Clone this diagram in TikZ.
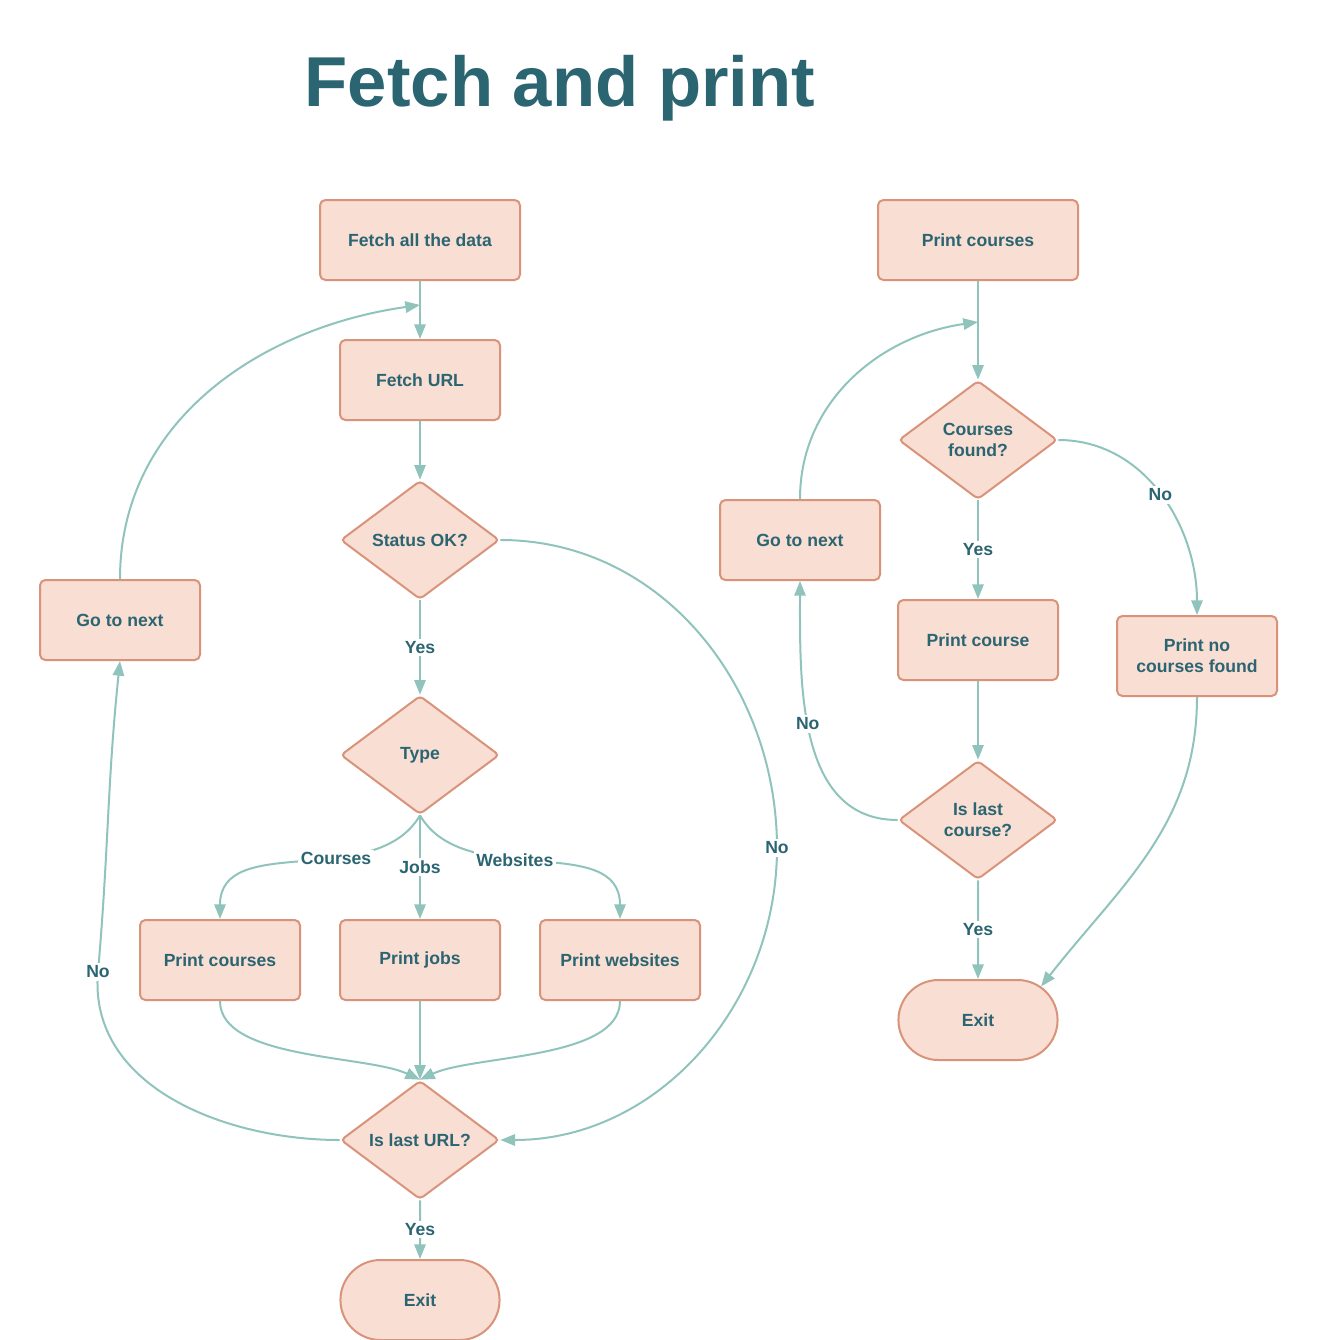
\documentclass[tikz,border=0pt]{standalone}
\usepackage{fontspec}
\setmainfont{Liberation Sans}
\usetikzlibrary{arrows.meta,shapes.geometric,shapes.misc}
\definecolor{inkteal}{HTML}{2B6572}
\definecolor{boxfill}{HTML}{F9DED3}
\definecolor{boxline}{HTML}{D9937A}
\definecolor{flowline}{HTML}{8FC3BC}

\begin{document}
\begin{tikzpicture}[
  x=0.75pt, y=-0.75pt,
  every node/.style={text=inkteal, font=\fontsize{13.2}{15.8}\selectfont\bfseries},
  process/.style={rectangle, draw=boxline, line width=1.5pt, fill=boxfill,
    rounded corners=4pt, minimum width=120pt, minimum height=60pt, align=center},
  wideproc/.style={process, minimum width=150pt},
  decision/.style={diamond, draw=boxline, line width=1.5pt, fill=boxfill,
    rounded corners=3pt, minimum width=119pt, minimum height=89pt,
    inner sep=0pt, align=center},
  terminal/.style={rounded rectangle, draw=boxline, line width=1.5pt,
    fill=boxfill, minimum width=126pt, minimum height=60pt},
  flow/.style={draw=flowline, line width=1.5pt,
    -{Triangle[length=11pt,width=8.5pt]}},
  lbl/.style={fill=white, inner sep=2pt}
]
  \useasboundingbox (0,0) rectangle (1318,1340);

  \node[font=\fontsize{53}{60}\selectfont\bfseries, anchor=base] (title)
    at (560,106) {Fetch and print};

  % fetch loop
  \node[wideproc] (fetchall) at (420,240) {Fetch all the data};
  \node[process] (fetchurl) at (420,380) {Fetch URL};
  \node[decision] (status) at (420,540) {Status OK?};
  \node[decision] (type) at (420,755) {Type};
  \node[process] (pcourses) at (220,960) {Print courses};
  \node[process] (pjobs) at (420,960) {Print jobs};
  \node[process] (pwebs) at (620,960) {Print websites};
  \node[decision] (lastURL) at (420,1140) {Is last URL?};
  \node[terminal] (exitL) at (420,1300) {Exit};
  \node[process] (nextL) at (120,620) {Go to next};

  \coordinate (joinL) at (420,305);
  \coordinate (noStatus) at (777,848);
  \coordinate (noURL) at (98,972);

  \draw[flow] (fetchall) -- (fetchurl);
  \draw[flow] (nextL.north) to[out=90,in=188] (joinL);
  \draw[flow] (fetchurl) -- (status);
  \draw[flow] (status) -- node[lbl]{Yes} (type);
  \draw[flow] (status.east) to[out=0,in=90] (noStatus) node[lbl]{No}
    to[out=-90,in=0] (lastURL.east);
  \draw[flow] (type.south) to[out=-120,in=90] node[lbl,pos=0.38]{Courses} (pcourses.north);
  \draw[flow] (type.south) -- node[lbl]{Jobs} (pjobs.north);
  \draw[flow] (type.south) to[out=-60,in=90] node[lbl,pos=0.42]{Websites} (pwebs.north);
  \draw[flow] (pcourses.south) to[out=-90,in=155,looseness=0.7] (lastURL.north);
  \draw[flow] (pjobs) -- (lastURL);
  \draw[flow] (pwebs.south) to[out=-90,in=25,looseness=0.7] (lastURL.north);
  \draw[flow] (lastURL) -- node[lbl]{Yes} (exitL);
  \draw[flow] (lastURL.west) to[out=180,in=-95] (noURL) node[lbl]{No}
    to[out=85,in=-96] (nextL.south);

  % print loop
  \node[wideproc] (pcoursesR) at (978,240) {Print courses};
  \node[decision] (foundQ) at (978,440) {Courses\\found?};
  \node[process] (nextR) at (800,540) {Go to next};
  \node[process] (pcourse) at (978,640) {Print course};
  \node[process] (pnone) at (1197,656) {Print no\\courses found};
  \node[decision] (lastC) at (978,820) {Is last\\course?};
  \node[terminal] (exitR) at (978,1020) {Exit};

  \coordinate (joinR) at (978,322);

  \draw[flow] (pcoursesR) -- (foundQ);
  \draw[flow] (nextR.north) to[out=90,in=188] (joinR);
  \draw[flow] (foundQ) -- node[lbl]{Yes} (pcourse);
  \draw[flow] (foundQ.east) to[out=0,in=90] node[lbl]{No} (pnone.north);
  \draw[flow] (pcourse) -- (lastC);
  \draw[flow] (lastC.west) to[out=180,in=-90] node[lbl,pos=0.55]{No} (nextR.south);
  \draw[flow] (lastC) -- node[lbl]{Yes} (exitR);
  \draw[flow] (pnone.south) to[out=-90,in=52] (exitR.28);
\end{tikzpicture}
\end{document}
